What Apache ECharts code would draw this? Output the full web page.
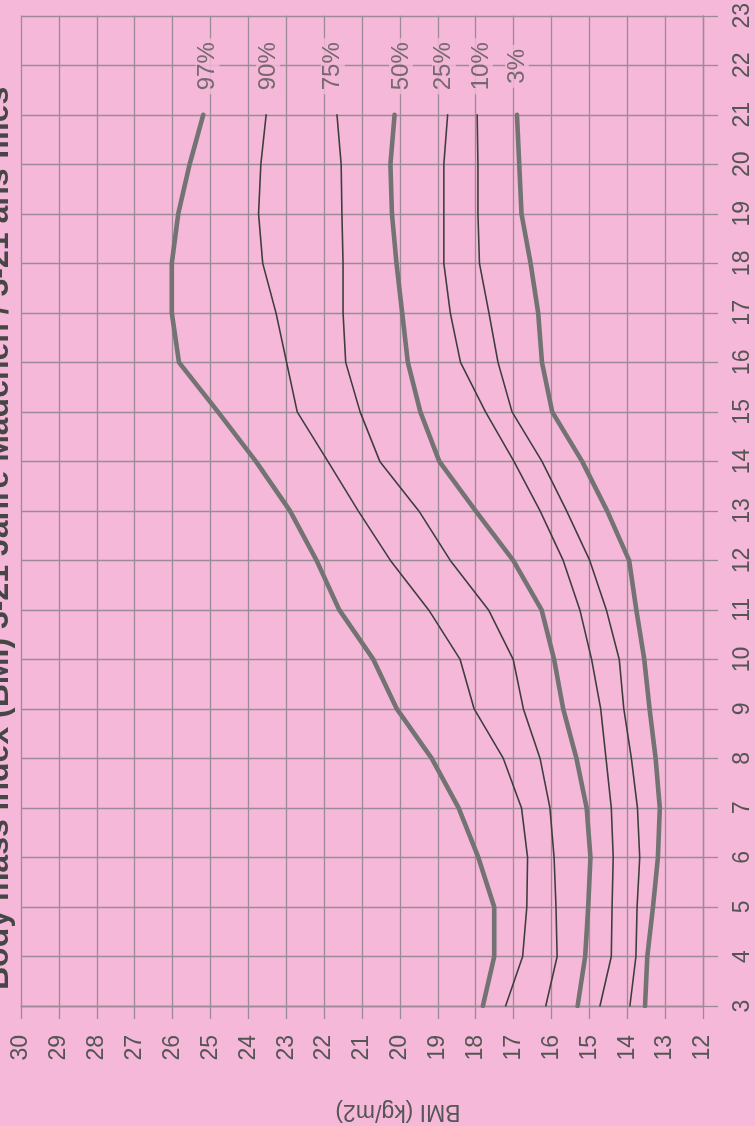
<!DOCTYPE html>
<html>
<head>
<meta charset="utf-8">
<script src="https://cdn.jsdelivr.net/npm/echarts@6/dist/echarts.min.js"></script>
<style>
html,body{margin:0;padding:0;background:#f5b8d8;}
#c{width:755px;height:1126px;}
</style>
</head>
<body>
<div id="c"></div>
<script>
// Age (years) 3..21
const ages = [3,4,5,6,7,8,9,10,11,12,13,14,15,16,17,18,19,20,21];
// BMI percentile values (kg/m2) per age
const p97 = [17.81,17.51,17.51,17.93,18.45,19.16,20.08,20.70,21.60,22.20,22.90,23.80,24.80,25.83,26.02,26.02,25.85,25.55,25.19];
const p90 = [17.21,16.76,16.65,16.63,16.79,17.27,18.04,18.41,19.24,20.25,21.10,21.90,22.71,22.99,23.27,23.62,23.73,23.67,23.53];
const p75 = [16.15,15.85,15.88,15.93,16.04,16.30,16.74,17.01,17.66,18.67,19.50,20.53,21.05,21.43,21.50,21.50,21.53,21.55,21.66];
const p50 = [15.31,15.11,15.03,14.97,15.07,15.34,15.69,15.93,16.26,17.01,18.00,18.96,19.46,19.79,19.94,20.09,20.21,20.25,20.14];
const p25 = [14.72,14.42,14.40,14.37,14.42,14.56,14.70,14.94,15.25,15.69,16.30,16.99,17.74,18.40,18.67,18.84,18.84,18.84,18.74];
const p10 = [13.93,13.77,13.74,13.67,13.73,13.89,14.09,14.21,14.55,14.99,15.60,16.25,17.04,17.41,17.65,17.90,17.94,17.94,17.96];
const p3  = [13.53,13.47,13.32,13.19,13.14,13.25,13.41,13.55,13.76,13.95,14.53,15.19,15.98,16.25,16.35,16.55,16.79,16.85,16.91];
// Percentile labels and where they sit (BMI, age)
const pctNames = ['97%','90%','75%','50%','25%','10%','3%'];
const pctLabelBmi = [25.07,23.48,21.77,19.97,18.84,17.86,16.91];
const pctLabelAge = 21.98;
const titleText = 'Body mass index (BMI) 3-21 Jahre Mädchen / 3-21 ans filles';
const axisNameText = 'BMI (kg/m2)';

const PINK = '#f5b8d8';
const GRID = '#9c8b96';
const THICK = '#737373';
const THIN = '#3e3e3e';
const FONT = '"Liberation Sans", Arial, sans-serif';

const seriesDefs = [
  {name:'97%', data:p97, thick:true},
  {name:'90%', data:p90, thick:false},
  {name:'75%', data:p75, thick:false},
  {name:'50%', data:p50, thick:true},
  {name:'25%', data:p25, thick:false},
  {name:'10%', data:p10, thick:false},
  {name:'3%',  data:p3,  thick:true}
];

const series = seriesDefs.map(s => ({
  type:'line',
  name:s.name,
  data: ages.map((a,i)=>[s.data[i], a]),
  symbol:'none',
  smooth:false,
  silent:true,
  z: 3,
  lineStyle:{color: s.thick?THICK:THIN, width: s.thick?4.6:1.6, cap:'round', join:'round'}
}));

series.push({
  type:'scatter',
  silent:true,
  symbolSize:0,
  z:5,
  data: pctNames.map((n,i)=>({name:n, value:[pctLabelBmi[i], pctLabelAge]})),
  label:{
    show:true,
    position:'inside',
    rotate:90,
    formatter:p=>p.name,
    fontFamily:FONT,
    fontSize:24,
    color:'#555',
    backgroundColor:PINK,
    padding:[0,4]
  }
});

const chart = echarts.init(document.getElementById('c'));
chart.setOption({
  backgroundColor: PINK,
  animation:false,
  grid:{left:21, right:52, top:9, bottom:120},
  xAxis:{
    type:'value', min:12, max:30, interval:1, inverse:true, position:'bottom',
    axisLine:{show:true, lineStyle:{color:GRID, width:1.3}},
    axisTick:{show:true, length:13, lineStyle:{color:GRID, width:1.3}},
    splitLine:{show:true, lineStyle:{color:GRID, width:1.3}},
    axisLabel:{rotate:90, margin:29, fontSize:23, color:'#555', fontFamily:FONT}
  },
  yAxis:{
    type:'value', min:3, max:23, interval:1, position:'right',
    axisLine:{show:true, lineStyle:{color:GRID, width:1.3}},
    axisTick:{show:true, length:15, lineStyle:{color:GRID, width:1.3}},
    splitLine:{show:true, lineStyle:{color:GRID, width:1.3}},
    axisLabel:{rotate:90, margin:28, fontSize:23, color:'#555', fontFamily:FONT}
  },
  graphic:[
    {type:'text', x:15, y:990, rotation:Math.PI/2, z:10,
     style:{text:titleText, font:'bold 32px ' + FONT, fill:'#464646', textAlign:'left', textVerticalAlign:'bottom'}},
    {type:'text', x:398, y:1111, rotation:Math.PI, z:10,
     style:{text:axisNameText, font:'23px ' + FONT, fill:'#555', textAlign:'center', textVerticalAlign:'middle'}}
  ],
  series:series
});
</script>
</body>
</html>
